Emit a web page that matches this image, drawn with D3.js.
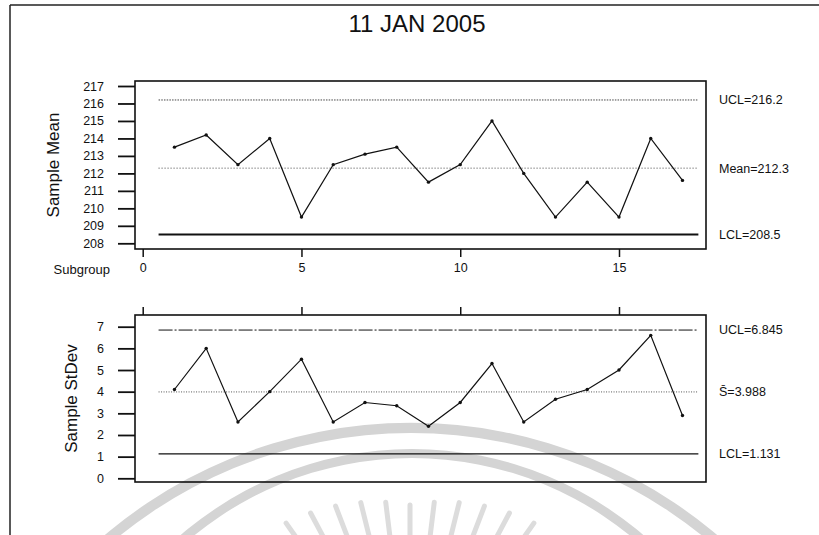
<!DOCTYPE html>
<html><head><meta charset="utf-8">
<script src="https://cdn.jsdelivr.net/npm/d3@7"></script>
<style>body{margin:0;background:#fff}svg{display:block}text{font-family:"Liberation Sans",Arial,sans-serif;fill:#111}</style>
</head><body><svg id="c" width="819" height="535"></svg>
<script>
// ---- data ----
const title = "11 JAN 2005";
const subgroups = [1,2,3,4,5,6,7,8,9,10,11,12,13,14,15,16,17];
const sampleMean = [213.5,214.2,212.5,214.0,209.5,212.5,213.1,213.5,211.5,212.5,215.0,212.0,209.5,211.5,209.5,214.0,211.6];
const sampleStDev = [4.1,6.0,2.6,4.0,5.5,2.6,3.5,3.35,2.4,3.5,5.3,2.6,3.65,4.1,5.0,6.6,2.9];
const meanTicks = [208,209,210,211,212,213,214,215,216,217];
const sdTicks = [0,1,2,3,4,5,6,7];
const xTicks = [0,5,10,15];
const meanLimitValues = [216.2,212.3,208.5];
const meanLimitLabels = ["UCL=216.2","Mean=212.3","LCL=208.5"];
const sdLimitValues = [6.845,3.988,1.131];
const sdLimitLabels = ["UCL=6.845","S\u0304=3.988","LCL=1.131"];

const svg = d3.select("#c");

// ---- watermark (decorative background seal) ----
const wm = svg.append("g");
wm.append("path").attr("transform","translate(411,897)")
  .attr("d", d3.arc()({innerRadius:464,outerRadius:474,startAngle:-Math.PI/2,endAngle:Math.PI/2}))
  .attr("fill","#d4d4d4");
wm.append("path").attr("transform","translate(412,803)")
  .attr("d", d3.arc()({innerRadius:345,outerRadius:354,startAngle:-Math.PI/2,endAngle:Math.PI/2}))
  .attr("fill","#d4d4d4");
const rayAngles = [-35,-28,-21,-14,-7,0,7,14,21,28,35];
wm.selectAll("line.ray").data(rayAngles).join("line").attr("class","ray")
  .attr("x1",a=>410+(195+0.6*Math.abs(a))*Math.sin(a*Math.PI/180))
  .attr("y1",a=>700-(195+0.6*Math.abs(a))*Math.cos(a*Math.PI/180))
  .attr("x2",a=>410+120*Math.sin(a*Math.PI/180))
  .attr("y2",a=>700-120*Math.cos(a*Math.PI/180))
  .attr("stroke","#dcdcdc").attr("stroke-width",5).attr("stroke-linecap","round");

// ---- outer frame ----
svg.append("line").attr("x1",10).attr("x2",819).attr("y1",5).attr("y2",5).attr("stroke","#222").attr("stroke-width",1.5);
svg.append("line").attr("x1",10).attr("x2",10).attr("y1",5).attr("y2",535).attr("stroke","#222").attr("stroke-width",1.5);

svg.append("text").attr("x",417).attr("y",32).attr("text-anchor","middle")
  .attr("font-size",24).text(title);

const x = d3.scaleLinear().domain([0,17]).range([142.7,682.5]);
const boxL = 135, boxR = 706;

function panel(opts){
  const g = svg.append("g");
  const y = d3.scaleLinear().domain(opts.domain).range(opts.range);
  g.append("rect").attr("x",boxL).attr("y",opts.top).attr("width",boxR-boxL).attr("height",opts.bottom-opts.top)
    .attr("fill","none").attr("stroke","#111").attr("stroke-width",1.6);
  const ya = g.append("g").attr("transform",`translate(${boxL},0)`)
    .call(d3.axisLeft(y).tickValues(opts.ticks).tickSize(17).tickPadding(14).tickFormat(d3.format("d")));
  ya.select(".domain").remove();
  ya.selectAll(".tick line").attr("stroke","#111").attr("stroke-width",1.8);
  ya.selectAll(".tick text").attr("font-size",12.5).attr("font-family",null).style("fill","#111");
  const xa = g.append("g").attr("transform",`translate(0,${opts.xAxisY})`)
    .call((opts.xTop? d3.axisTop(x) : d3.axisBottom(x)).tickValues(xTicks).tickSize(8).tickPadding(6).tickFormat(opts.xLabels? d3.format("d") : ""));
  xa.select(".domain").remove();
  xa.selectAll(".tick line").attr("stroke","#111").attr("stroke-width",1.5);
  xa.selectAll(".tick text").attr("font-size",12.5).attr("font-family",null).style("fill","#111");
  opts.limits.forEach((v,i)=>{
    g.append("line").attr("x1",x(0.5)).attr("x2",x(17.5)).attr("y1",y(v)).attr("y2",y(v))
      .attr("stroke",opts.styles[i].c).attr("stroke-width",opts.styles[i].w)
      .attr("stroke-dasharray",opts.styles[i].d);
    g.append("text").attr("x",719).attr("y",y(v)).attr("dy","0.35em").attr("font-size",12.5)
      .text(opts.labels[i]);
  });
  const pts = subgroups.map((s,i)=>[s,opts.values[i]]);
  g.append("path").datum(pts).attr("fill","none").attr("stroke","#111").attr("stroke-width",1.2)
    .attr("d", d3.line().x(d=>x(d[0])).y(d=>y(d[1])));
  g.selectAll("circle").data(pts).join("circle").attr("cx",d=>x(d[0])).attr("cy",d=>y(d[1]))
    .attr("r",1.7).attr("fill","#111");
  g.append("text").attr("transform",`translate(${opts.titleX},${(opts.top+opts.bottom)/2}) rotate(-90)`)
    .attr("text-anchor","middle").attr("font-size",17).text(opts.title);
  return y;
}

panel({domain:[208,217], range:[243.3,86], top:81, bottom:249, ticks:meanTicks,
  xAxisY:249, xTop:false, xLabels:true, values:sampleMean,
  limits:meanLimitValues, labels:meanLimitLabels,
  styles:[{c:"#444",w:1,d:"1.5,1.2"},{c:"#444",w:1,d:"1,2"},{c:"#111",w:2,d:null}],
  title:"Sample Mean", titleX:59});

panel({domain:[0,7], range:[478.3,326.7], top:315, bottom:482, ticks:sdTicks,
  xAxisY:315, xTop:true, xLabels:false, values:sampleStDev,
  limits:sdLimitValues, labels:sdLimitLabels,
  styles:[{c:"#111",w:1,d:"14,2,2,2"},{c:"#555",w:1,d:"1,1.5"},{c:"#111",w:1.2,d:null}],
  title:"Sample StDev", titleX:77});

svg.append("text").attr("x",110).attr("y",269).attr("dy","0.35em").attr("text-anchor","end")
  .attr("font-size",13).text("Subgroup");
</script></body></html>
